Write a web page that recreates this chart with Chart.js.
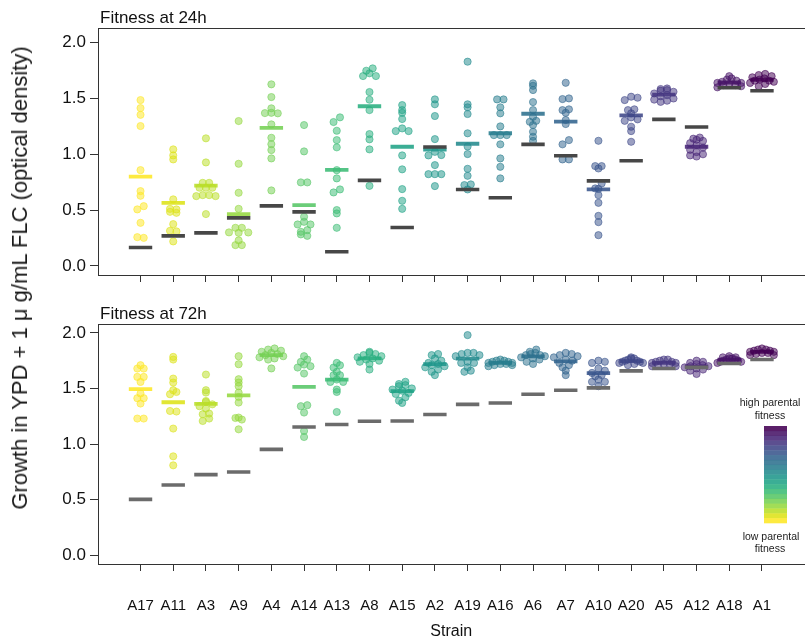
<!DOCTYPE html>
<html>
<head>
<meta charset="utf-8">
<script src="https://cdn.jsdelivr.net/npm/chart.js@4.4.1/dist/chart.umd.min.js"></script>
<style>
  html, body { margin: 0; padding: 0; background: #fff; overflow: hidden; width: 805px; height: 639px; }
  canvas { position: absolute; left: 0; }
  #panel24 { top: 0; }
  #panel72 { top: 296px; }
  #ytitle {
    position: absolute; left: 20px; top: 278px;
    transform: translate(-50%, -50%) rotate(-90deg);
    white-space: nowrap; color: #1a1a1a;
    font: 22px "Liberation Sans", Arial, sans-serif;
  }
</style>
</head>
<body>
<canvas id="panel24" width="820" height="296" style="width:820px;height:296px"></canvas>
<canvas id="panel72" width="820" height="345" style="width:820px;height:345px"></canvas>
<div id="ytitle">Growth in YPD + 1 μ g/mL FLC (optical density)</div>
<script>
// Strains, ordered by parental fitness
const strains = ['A17','A11','A3','A9','A4','A14','A13','A8','A15','A2',
                 'A19','A16','A6','A7','A10','A20','A5','A12','A18','A1'];

// Evolved replicate growth (OD) at 24 h, one list per strain
const growth24h = [
  [1.486,1.414,1.354,1.253,0.858,0.670,0.628,0.535,0.506,0.386,0.251,0.257],
  [1.044,0.990,0.954,0.596,0.506,0.511,0.475,0.484,0.374,0.309,0.314,0.219],
  [1.143,0.927,0.744,0.744,0.700,0.700,0.700,0.634,0.634,0.625,0.625,0.464],
  [1.298,0.915,0.655,0.511,0.341,0.341,0.296,0.299,0.300,0.228,0.186,0.186],
  [1.627,1.513,1.412,1.372,1.367,1.369,1.268,1.148,1.091,1.038,0.963,0.676],
  [1.262,1.026,0.748,0.748,0.440,0.395,0.371,0.371,0.320,0.305,0.269,0.282],
  [1.331,1.289,1.211,1.127,1.062,0.858,0.784,0.685,0.658,0.500,0.470,0.341],
  [1.770,1.749,1.726,1.701,1.701,1.558,1.489,1.396,1.181,1.134,1.044,0.717],
  [1.441,1.396,1.372,1.316,1.232,1.208,1.208,0.990,0.865,0.688,0.583,0.511],
  [1.492,1.448,1.343,1.136,1.022,0.993,0.990,0.903,0.822,0.822,0.822,0.715],
  [1.830,1.448,1.421,1.361,1.188,1.070,1.002,0.870,0.807,0.730,0.724,0.685],
  [1.492,1.492,1.421,1.367,1.250,1.172,1.172,1.172,1.089,0.963,0.888,0.784],
  [1.636,1.614,1.576,1.468,1.396,1.336,1.300,1.291,1.262,1.202,1.157,1.120],
  [1.641,1.501,1.495,1.403,1.396,1.372,1.307,1.271,1.127,1.089,0.954,0.954],
  [1.121,0.894,0.894,0.873,0.739,0.694,0.690,0.634,0.565,0.448,0.392,0.275],
  [1.516,1.507,1.486,1.403,1.396,1.367,1.331,1.313,1.300,1.247,1.208,1.112],
  [1.590,1.585,1.575,1.570,1.560,1.545,1.530,1.520,1.500,1.490,1.480,1.470],
  [1.150,1.140,1.130,1.120,1.100,1.080,1.060,1.040,1.020,1.000,0.990,0.980],
  [1.700,1.680,1.670,1.660,1.650,1.640,1.640,1.630,1.620,1.620,1.610,1.600],
  [1.720,1.710,1.700,1.690,1.680,1.670,1.660,1.660,1.650,1.640,1.630,1.610]
];

// Evolved replicate growth (OD) at 72 h
const growth72h = [
  [1.709,1.679,1.679,1.604,1.604,1.559,1.454,1.412,1.412,1.364,1.229,1.229],
  [1.784,1.760,1.589,1.553,1.484,1.468,1.448,1.292,1.297,1.139,0.889,0.808],
  [1.625,1.484,1.463,1.387,1.378,1.357,1.340,1.319,1.274,1.268,1.229,1.207],
  [1.790,1.718,1.583,1.553,1.520,1.463,1.423,1.373,1.238,1.220,1.234,1.132],
  [1.860,1.850,1.840,1.830,1.820,1.810,1.800,1.790,1.780,1.770,1.760,1.680],
  [1.790,1.760,1.739,1.715,1.700,1.688,1.634,1.349,1.340,1.283,1.117,1.063],
  [1.730,1.709,1.688,1.649,1.619,1.619,1.580,1.559,1.559,1.490,1.468,1.288],
  [1.830,1.820,1.810,1.800,1.790,1.780,1.770,1.760,1.750,1.740,1.720,1.670],
  [1.560,1.540,1.530,1.520,1.500,1.490,1.480,1.460,1.450,1.420,1.390,1.370],
  [1.810,1.800,1.770,1.750,1.730,1.720,1.710,1.700,1.690,1.670,1.650,1.620],
  [1.980,1.820,1.820,1.810,1.800,1.790,1.740,1.730,1.730,1.690,1.660,1.650],
  [1.760,1.750,1.750,1.740,1.740,1.730,1.730,1.720,1.720,1.710,1.710,1.700],
  [1.850,1.830,1.820,1.810,1.800,1.800,1.790,1.780,1.770,1.760,1.740,1.720],
  [1.820,1.810,1.800,1.790,1.780,1.760,1.750,1.730,1.710,1.690,1.660,1.620],
  [1.750,1.740,1.730,1.680,1.660,1.640,1.620,1.610,1.580,1.560,1.560,1.520],
  [1.780,1.770,1.770,1.760,1.750,1.750,1.740,1.740,1.730,1.730,1.720,1.710],
  [1.760,1.760,1.750,1.740,1.740,1.730,1.730,1.720,1.720,1.710,1.700,1.700],
  [1.750,1.740,1.730,1.720,1.710,1.700,1.700,1.690,1.680,1.670,1.660,1.630],
  [1.790,1.780,1.780,1.770,1.770,1.760,1.760,1.750,1.750,1.740,1.740,1.730],
  [1.860,1.850,1.850,1.840,1.840,1.830,1.830,1.820,1.820,1.810,1.800,1.800]
];

// Ancestral (parental) growth
const parental24h = [0.165,0.269,0.296,0.430,0.538,0.484,0.126,0.766,0.344,1.065,
                     0.685,0.610,1.089,0.987,0.762,0.942,1.313,1.244,1.596,1.570];
const parental72h = [0.502,0.631,0.724,0.748,0.952,1.153,1.175,1.205,1.207,1.265,
                     1.357,1.369,1.448,1.484,1.505,1.658,1.679,1.690,1.724,1.760];

const yTickValues = [0, 0.5, 1.0, 1.5, 2.0];
const panelTitles = ['Fitness at 24h', 'Fitness at 72h'];
const legendHigh = ['high parental', 'fitness'];
const legendLow = ['low parental', 'fitness'];

// viridis, dark to light
const viridis20 = ['#440154','#481568','#482677','#453781','#3F4788','#39558C','#32648E',
  '#2D718E','#287D8E','#238A8D','#1F968B','#20A386','#29AF7F','#3CBC75','#56C667',
  '#75D054','#95D840','#BADE28','#DDE318','#FDE725'];

function rgba(hex, a) {
  const n = parseInt(hex.slice(1), 16);
  return `rgba(${(n >> 16) & 255},${(n >> 8) & 255},${n & 255},${a})`;
}

// colour each strain by the rank of its parental fitness (low = yellow, high = purple)
const byParent = parental72h.map((v, i) => i).sort((a, b) => parental72h[a] - parental72h[b]);
const rank = [];
byParent.forEach((idx, r) => { rank[idx] = r; });
const strainColor = strains.map((s, i) => viridis20[viridis20.length - 1 - rank[i]]);

const mean = a => a.reduce((s, v) => s + v, 0) / a.length;

// axis ranges
const X_MIN = -0.3, X_MAX = 21.3;
const CANVAS_W = 820, AREA_LEFT = 98, AREA_RIGHT = 812;
const PX_PER_X = (AREA_RIGHT - AREA_LEFT) / (X_MAX - X_MIN);
const PX_PER_Y = 111.3;
const BIN_H = 5.5;     // vertical bin height of the swarm, px
const STEP = 6.5;      // horizontal spacing inside a bin, px
const MAX_SPREAD = 24; // widest a single row of the swarm may get, px

// centred beeswarm: values are binned vertically, points sharing a bin
// are laid out from the centre outwards, alternating right and left
function swarmOffsets(values) {
  const bins = new Map();
  values.forEach((v, i) => {
    const b = Math.floor(v * PX_PER_Y / BIN_H);
    if (!bins.has(b)) bins.set(b, []);
    bins.get(b).push(i);
  });
  const off = new Array(values.length).fill(0);
  bins.forEach(members => {
    const n = members.length;
    const step = n > 1 ? Math.min(STEP, MAX_SPREAD / (n - 1)) : 0;
    const slots = [];
    for (let k = 0; k < n; k++) slots.push((k - (n - 1) / 2) * step);
    slots.sort((a, b) => Math.abs(a) - Math.abs(b) || b - a);
    members.forEach((idx, k) => { off[idx] = slots[k] / PX_PER_X; });
  });
  return off;
}

const FONT = '"Liberation Sans", Arial, Helvetica, sans-serif';

// frame around the plotting region plus the panel title
const framePlugin = {
  id: 'frame',
  afterDraw(chart) {
    const { ctx, chartArea: a } = chart;
    ctx.save();
    ctx.strokeStyle = '#333';
    ctx.lineWidth = 1;
    ctx.strokeRect(Math.round(a.left) + 0.5, Math.round(a.top) + 0.5,
                   Math.round(a.right - a.left), Math.round(a.bottom - a.top));
    ctx.fillStyle = '#111';
    ctx.font = '17px ' + FONT;
    ctx.textBaseline = 'alphabetic';
    ctx.textAlign = 'left';
    ctx.fillText(chart.options.plugins.frame.title, a.left + 2, a.top - 5);
    ctx.restore();
  }
};

// colour key for parental fitness
const keyPlugin = {
  id: 'parentKey',
  afterDraw(chart) {
    if (!chart.options.plugins.parentKey.show) return;
    const { ctx } = chart;
    const x = 764, y0 = 130, w = 23, h = 97;
    const n = viridis20.length, bh = h / n;
    ctx.save();
    viridis20.forEach((c, i) => {
      ctx.fillStyle = rgba(c, 0.88);
      ctx.fillRect(x, y0 + i * bh, w, bh + 0.3);
    });
    ctx.fillStyle = '#222';
    ctx.font = '10.5px ' + FONT;
    ctx.textAlign = 'center';
    ctx.textBaseline = 'middle';
    ctx.fillText(legendHigh[0], 770, 107);
    ctx.fillText(legendHigh[1], 770, 120);
    ctx.fillText(legendLow[0], 771, 241);
    ctx.fillText(legendLow[1], 770, 253);
    ctx.restore();
  }
};

function buildPanel(canvasId, growth, parental, opts) {
  const pts = [], ptFill = [], ptEdge = [];
  growth.forEach((vals, i) => {
    const off = swarmOffsets(vals);
    vals.forEach((v, j) => {
      pts.push({ x: i + 1 + off[j], y: v });
      ptFill.push(rgba(strainColor[i], 0.52));
      ptEdge.push(rgba(strainColor[i], 0.7));
    });
  });
  const means = growth.map((vals, i) => ({ x: i + 1, y: mean(vals) }));
  const parents = parental.map((v, i) => ({ x: i + 1, y: v }));

  const canvas = document.getElementById(canvasId);
  const H = canvas.height;
  return new Chart(canvas, {
    type: 'scatter',
    data: {
      datasets: [
        { data: pts, order: 3, pointRadius: 3.6, pointBorderWidth: 0.8,
          pointBackgroundColor: ptFill, pointBorderColor: ptEdge },
        { data: means, order: 2, pointStyle: 'line', pointRadius: 11.7, pointBorderWidth: 3.8,
          pointBorderColor: strainColor.map(c => rgba(c, 0.88)), pointBackgroundColor: 'transparent' },
        { data: parents, order: 1, pointStyle: 'line', pointRadius: 11.7, pointBorderWidth: 3.6,
          pointBorderColor: opts.parentColor, pointBackgroundColor: 'transparent' }
      ]
    },
    options: {
      responsive: false,
      animation: false,
      events: [],
      layout: { padding: { left: 0, right: CANVAS_W - AREA_RIGHT, top: opts.areaTop, bottom: 0 } },
      plugins: {
        legend: { display: false },
        tooltip: { enabled: false },
        frame: { title: opts.title },
        parentKey: { show: opts.showKey }
      },
      scales: {
        x: {
          type: 'linear', min: X_MIN, max: X_MAX,
          afterBuildTicks: s => { s.ticks = strains.map((n, i) => ({ value: i + 1 })); },
          afterFit: s => { s.height = H - opts.areaBottom; },
          grid: { drawOnChartArea: false, drawTicks: true, tickLength: 7, color: '#333', lineWidth: 1 },
          border: { display: false },
          ticks: {
            display: opts.showLabels, autoSkip: false, maxRotation: 0, padding: 26,
            color: '#111', font: { family: FONT, size: 15 },
            callback: v => strains[Math.round(v) - 1]
          },
          title: { display: opts.showLabels, text: 'Strain', color: '#111',
                   font: { family: FONT, size: 16 }, padding: { top: 0, bottom: 0 } }
        },
        y: {
          type: 'linear', min: opts.yMin, max: opts.yMax,
          afterBuildTicks: s => { s.ticks = yTickValues.map(v => ({ value: v })); },
          afterFit: s => { s.width = AREA_LEFT; },
          grid: { drawOnChartArea: false, drawTicks: true, tickLength: 8, color: '#333', lineWidth: 1 },
          border: { display: false },
          ticks: { padding: 4, color: '#111', font: { family: FONT, size: 17 },
                   callback: v => v.toFixed(1) }
        }
      }
    },
    plugins: [framePlugin, keyPlugin]
  });
}

buildPanel('panel24', growth24h, parental24h,
  { title: panelTitles[0], areaTop: 28, areaBottom: 275, yMin: -0.082, yMax: 2.132,
    showLabels: false, showKey: false, parentColor: '#474747' });
buildPanel('panel72', growth72h, parental72h,
  { title: panelTitles[1], areaTop: 28, areaBottom: 268, yMin: -0.08, yMax: 2.08,
    showLabels: true, showKey: true, parentColor: '#6b6b6b' });
</script>
</body>
</html>
